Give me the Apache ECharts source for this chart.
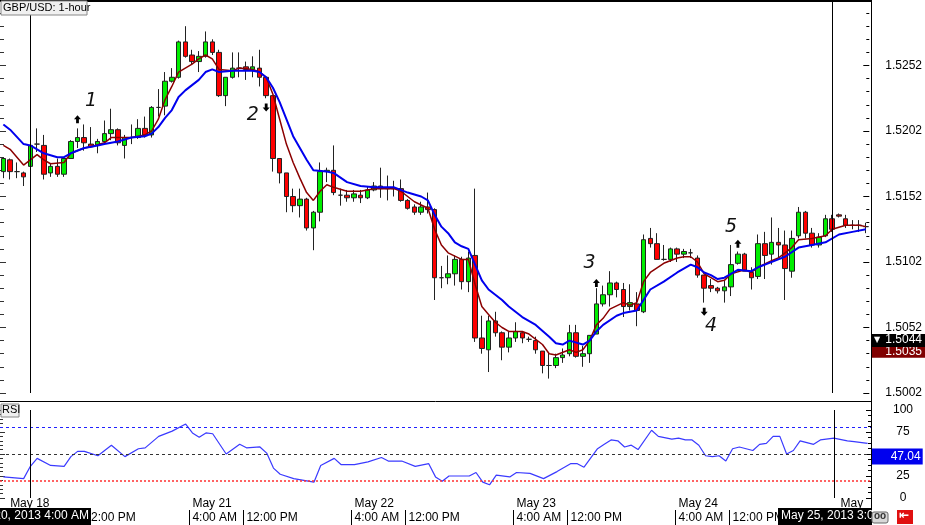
<!DOCTYPE html>
<html>
<head>
<meta charset="utf-8">
<script src="https://cdn.jsdelivr.net/npm/echarts/dist/echarts.min.js"></script>
<style>
  html, body { margin: 0; padding: 0; background: #fff; }
  #chart { width: 925px; height: 525px; }
</style>
</head>
<body>
<div id="chart"></div>
<script>
  // GBP/USD 1-hour candles
  const opens = [1.5171,1.5180,1.5171,1.5170,1.5175,1.5192,1.5191,1.5170,1.5175,1.5169,
    1.5181,1.5194,1.5197,1.5192,1.5191,1.5194,1.5200,1.5203,1.5191,1.5197,
    1.5197,1.5204,1.5199,1.5220,1.5221,1.5240,1.5243,1.5270,1.5260,1.5255,
    1.5259,1.5270,1.5262,1.5229,1.5243,1.5250,1.5251,1.5249,1.5250,1.5243,
    1.5229,1.5181,1.5170,1.5152,1.5145,1.5150,1.5128,1.5140,1.5171,1.5172,
    1.5153,1.5153,1.5151,1.5153,1.5151,1.5157,1.5160,1.5158,1.5158,1.5158,
    1.5149,1.5144,1.5140,1.5144,1.5142,1.5090,1.5090,1.5093,1.5104,1.5087,
    1.5107,1.5044,1.5035,1.5057,1.5048,1.5037,1.5044,1.5048,1.5043,1.5042,
    1.5034,1.5023,1.5023,1.5029,1.5032,1.5048,1.5030,1.5032,1.5047,1.5070,
    1.5077,1.5086,1.5081,1.5068,1.5070,1.5064,1.5120,1.5116,1.5104,1.5104,
    1.5112,1.5108,1.5109,1.5105,1.5092,1.5084,1.5082,1.5080,1.5083,1.5101,
    1.5108,1.5094,1.5091,1.5116,1.5108,1.5117,1.5115,1.5095,1.5122,1.5140,
    1.5124,1.5115,1.5122,1.5135,1.5138,1.5135,1.5130,1.5130,1.5129];
  const closes = [1.5181,1.5171,1.5171,1.5167,1.5191,1.5192,1.5169,1.5175,1.5169,1.5181,
    1.5194,1.5197,1.5193,1.5190,1.5194,1.5200,1.5203,1.5193,1.5197,1.5197,
    1.5204,1.5199,1.5220,1.5220,1.5240,1.5243,1.5270,1.5259,1.5255,1.5259,
    1.5270,1.5262,1.5229,1.5243,1.5250,1.5250,1.5249,1.5251,1.5243,1.5229,
    1.5181,1.5170,1.5152,1.5145,1.5150,1.5128,1.5140,1.5171,1.5172,1.5155,
    1.5153,1.5151,1.5154,1.5151,1.5157,1.5160,1.5158,1.5158,1.5158,1.5149,
    1.5143,1.5140,1.5144,1.5142,1.5090,1.5090,1.5093,1.5104,1.5087,1.5105,
    1.5044,1.5036,1.5057,1.5048,1.5037,1.5044,1.5049,1.5044,1.5043,1.5035,
    1.5023,1.5023,1.5029,1.5031,1.5048,1.5030,1.5032,1.5046,1.5070,1.5077,
    1.5086,1.5081,1.5068,1.5071,1.5065,1.5119,1.5116,1.5104,1.5104,1.5112,
    1.5108,1.5110,1.5109,1.5092,1.5082,1.5082,1.5080,1.5083,1.5100,1.5108,
    1.5095,1.5090,1.5116,1.5107,1.5117,1.5115,1.5097,1.5120,1.5140,1.5124,
    1.5115,1.5121,1.5135,1.5127,1.5137,1.5130,1.5130,1.5130,1.5129];
  const lows = [1.5166,1.5165,1.5166,1.5160,1.5175,1.5186,1.5165,1.5167,1.5167,1.5167,
    1.5181,1.5189,1.5187,1.5189,1.5185,1.5192,1.5195,1.5191,1.5181,1.5192,
    1.5196,1.5197,1.5197,1.5213,1.5214,1.5239,1.5242,1.5258,1.5253,1.5247,
    1.5258,1.5260,1.5228,1.5221,1.5242,1.5243,1.5241,1.5243,1.5236,1.5227,
    1.5171,1.5162,1.5140,1.5140,1.5136,1.5126,1.5111,1.5133,1.5163,1.5153,
    1.5145,1.5148,1.5148,1.5147,1.5150,1.5156,1.5151,1.5149,1.5152,1.5148,
    1.5142,1.5138,1.5138,1.5139,1.5073,1.5082,1.5085,1.5084,1.5081,1.5079,
    1.5041,1.5032,1.5018,1.5045,1.5027,1.5033,1.5041,1.5040,1.5041,1.5032,
    1.5017,1.5013,1.5021,1.5025,1.5030,1.5029,1.5022,1.5025,1.5047,1.5068,
    1.5068,1.5075,1.5060,1.5065,1.5053,1.5063,1.5113,1.5104,1.5103,1.5102,
    1.5102,1.5105,1.5105,1.5090,1.5071,1.5079,1.5078,1.5071,1.5076,1.5100,
    1.5095,1.5081,1.5089,1.5089,1.5100,1.5105,1.5073,1.5090,1.5120,1.5120,
    1.5113,1.5113,1.5121,1.5125,1.5136,1.5128,1.5127,1.5125,1.5124];
  const highs = [1.5181,1.5181,1.5178,1.5171,1.5192,1.5204,1.5199,1.5177,1.5181,1.5182,
    1.5195,1.5204,1.5207,1.5205,1.5196,1.5210,1.5219,1.5204,1.5199,1.5207,
    1.5211,1.5213,1.5221,1.5234,1.5247,1.5250,1.5271,1.5282,1.5264,1.5263,
    1.5278,1.5272,1.5264,1.5243,1.5262,1.5262,1.5255,1.5259,1.5264,1.5244,
    1.5229,1.5181,1.5170,1.5158,1.5158,1.5151,1.5141,1.5178,1.5174,1.5191,
    1.5158,1.5157,1.5157,1.5157,1.5160,1.5163,1.5174,1.5168,1.5164,1.5165,
    1.5150,1.5146,1.5148,1.5155,1.5143,1.5099,1.5107,1.5107,1.5106,1.5110,
    1.5158,1.5061,1.5061,1.5064,1.5049,1.5049,1.5056,1.5049,1.5045,1.5045,
    1.5034,1.5033,1.5032,1.5036,1.5054,1.5054,1.5038,1.5046,1.5082,1.5084,
    1.5095,1.5087,1.5086,1.5085,1.5079,1.5123,1.5128,1.5124,1.5115,1.5113,
    1.5113,1.5112,1.5112,1.5107,1.5092,1.5089,1.5083,1.5088,1.5115,1.5110,
    1.5109,1.5098,1.5123,1.5125,1.5136,1.5128,1.5126,1.5126,1.5144,1.5141,
    1.5128,1.5124,1.5138,1.5138,1.5139,1.5138,1.5134,1.5134,1.5132];

  // moving averages read at [candle index, price]
  const maFast = [[0,1.5191],[1,1.5188],[3,1.5176],[4,1.5180],[5,1.5184],[6,1.5180],[7,1.5177],[9,1.5178],
    [10,1.5185],[12,1.5189],[13,1.5190],[15,1.5193],[16,1.5197],[19,1.5197],[21,1.5199],[22,1.5202],
    [23,1.5211],[24,1.5226],[25,1.5236],[26,1.5247],[28,1.5253],[29,1.5257],[30,1.5260],[31,1.5257],
    [32,1.5249],[34,1.5248],[35,1.5250],[37,1.5249],[38,1.5247],[39,1.5243],[40,1.5230],[41,1.5211],
    [42,1.5192],[43,1.5178],[44,1.5166],[45,1.5155],[46,1.5149],[47,1.5156],[48,1.5161],[49,1.5159],
    [51,1.5156],[53,1.5156],[55,1.5158],[58,1.5158],[59,1.5156],[61,1.5148],[63,1.5143],[64,1.5127],
    [65,1.5115],[66,1.5109],[68,1.5104],[69,1.5104],[70,1.5085],[71,1.5068],[72,1.5062],[73,1.5056],
    [74,1.5052],[75,1.5049],[77,1.5049],[78,1.5047],[80,1.5039],[81,1.5032],[82,1.5031],[84,1.5035],
    [85,1.5033],[86,1.5035],[87,1.5042],[88,1.5054],[89,1.5059],[90,1.5066],[92,1.5071],[93,1.5069],
    [94,1.5071],[95,1.5087],[96,1.5094],[98,1.5101],[100,1.5105],[101,1.5106],[102,1.5106],[103,1.5102],
    [104,1.5093],[105,1.5090],[106,1.5087],[107,1.5088],[108,1.5093],[110,1.5096],[111,1.5094],[112,1.5098],
    [114,1.5103],[115,1.5105],[117,1.5113],[118,1.5119],[120,1.5120],[122,1.5122],[123,1.5127],[125,1.5130],
    [127,1.5130],[128,1.5129]];
  const maSlow = [[0,1.5207],[1,1.5203],[3,1.5192],[4,1.5191],[6,1.5185],[8,1.5182],[9,1.5182],[10,1.5185],
    [12,1.5189],[14,1.5191],[15,1.5192],[17,1.5194],[19,1.5197],[21,1.5198],[22,1.5200],[23,1.5205],
    [24,1.5212],[25,1.5218],[26,1.5228],[27,1.5233],[28,1.5237],[29,1.5241],[30,1.5247],[31,1.5249],
    [32,1.5247],[34,1.5248],[37,1.5248],[38,1.5247],[39,1.5243],[40,1.5235],[41,1.5224],[42,1.5211],
    [43,1.5198],[44,1.5189],[45,1.5180],[46,1.5172],[48,1.5171],[49,1.5170],[51,1.5163],[53,1.5160],
    [55,1.5159],[58,1.5159],[60,1.5155],[62,1.5152],[63,1.5149],[64,1.5138],[65,1.5129],[66,1.5124],
    [67,1.5117],[68,1.5114],[69,1.5112],[70,1.5100],[71,1.5088],[72,1.5081],[74,1.5073],[75,1.5068],
    [77,1.5060],[79,1.5054],[81,1.5045],[82,1.5040],[83,1.5039],[84,1.5042],[86,1.5039],[87,1.5042],
    [88,1.5049],[89,1.5054],[91,1.5061],[92,1.5063],[94,1.5065],[95,1.5073],[96,1.5081],[98,1.5087],
    [100,1.5094],[102,1.5100],[103,1.5098],[104,1.5094],[105,1.5092],[106,1.5089],[107,1.5090],[109,1.5096],
    [111,1.5095],[112,1.5098],[115,1.5104],[116,1.5106],[118,1.5113],[120,1.5115],[122,1.5117],[124,1.5123],
    [126,1.5125],[128,1.5127]];

  // RSI read at [candle index, value]
  const rsiPoints = [[0,24],[3,22],[4,36],[5,45],[7,37],[9,36],[10,47],[11,53],[12,53],[14,48],[16,60],
    [18,47],[20,56],[21,57],[23,70],[25,76],[27,84],[28,74],[29,69],[30,74],[31,73],[33,50],[35,61],
    [36,57],[38,58],[39,51],[40,34],[41,27],[43,22],[46,18],[47,37],[49,45],[50,38],[52,38],[54,41],
    [56,46],[57,42],[59,42],[61,36],[63,39],[64,24],[65,19],[66,25],[69,25],[70,29],[71,18],[72,15],
    [73,26],[75,24],[76,29],[78,28],[80,22],[82,30],[84,39],[85,39],[86,35],[88,56],[89,61],[90,66],
    [91,65],[92,58],[93,60],[94,55],[96,77],[97,70],[99,67],[100,68],[101,66],[102,66],[103,60],[104,48],
    [105,47],[106,48],[107,42],[108,56],[109,58],[111,54],[112,61],[113,62],[114,70],[115,70],[116,50],
    [117,54],[118,65],[119,63],[120,61],[121,66],[123,68],[125,65],[126,64],[128,62]];

  // bottom axis labels (candle index -> text)
  const dayTicks = [1, 28, 52, 76, 100, 124];
  const dayNames = ['May 18', 'May 21', 'May 22', 'May 23', 'May 24', 'May'];
  const timeTicks = [4, 12, 28, 36, 52, 60, 76, 84, 100, 108];
  const timeNames = ['4:00 AM', '12:00 PM', '4:00 AM', '12:00 PM', '4:00 AM', '12:00 PM',
    '4:00 AM', '12:00 PM', '4:00 AM', '12:00 PM'];

  // numbered signals: [index, price, text]
  const signalNums = [[13, 1.5225, '1'], [37, 1.5214, '2'], [87, 1.5101, '3'], [105, 1.5053, '4'], [108, 1.5129, '5']];
  const upArrows = [[11, 1.5211], [88, 1.5086], [109, 1.5116]];
  const downArrows = [[39, 1.5220], [104, 1.5064]];

  const crossIdx = [4, 123];
  const priceTags = [1.5044, 1.5035];
  const rsiTag = 47.04;

  const FONT = 'Liberation Sans, Arial, sans-serif';
  const cats = opens.map((v, i) => i);
  const candles = opens.map((o, i) => [o, closes[i], lows[i], highs[i]]);
  const arrowPath = 'path://M5,0 L10,5 L7,5 L7,10 L3,10 L3,5 L0,5 Z';
  const hidden = 'rgba(0,0,0,0)';

  let chart = echarts.init(document.getElementById('chart'));
  chart.setOption({
    animation: false,
    backgroundColor: '#fff',
    textStyle: {fontFamily: FONT},
    grid: [
      {left: 0, right: 54, top: 0, height: 393},
      {left: 0, right: 54, top: 410, bottom: 27},
      {left: 0, right: 54, top: 510, bottom: 0}
    ],
    xAxis: [
      {type: 'category', gridIndex: 0, data: cats, boundaryGap: true, position: 'bottom',
        axisLine: {show: false}, axisTick: {show: false}, axisLabel: {show: false}},
      {type: 'category', gridIndex: 1, data: cats, boundaryGap: true, position: 'bottom',
        axisLine: {show: false}, axisTick: {show: false},
        axisLabel: {
          interval: (i) => dayTicks.indexOf(i) >= 0,
          formatter: (v, i) => dayNames[dayTicks.indexOf(i)] || '',
          align: 'left', margin: 0, color: '#000', fontSize: 12, fontFamily: FONT
        }},
      {type: 'category', gridIndex: 2, data: cats, boundaryGap: true, position: 'bottom',
        axisLine: {show: false},
        axisTick: {show: true, inside: true, alignWithLabel: false, length: 15,
          interval: (i) => timeTicks.indexOf(i) >= 0, lineStyle: {color: '#000'}},
        axisLabel: {
          inside: true,
          interval: (i) => timeTicks.indexOf(i) >= 0,
          formatter: (v, i) => timeNames[timeTicks.indexOf(i)] || '',
          align: 'left', margin: 1, color: '#000', fontSize: 12, fontFamily: FONT
        }}
    ],
    yAxis: [
      {type: 'value', gridIndex: 0, position: 'right', min: 1.5002, max: 1.5302, interval: 0.005,
        axisLine: {show: false}, splitLine: {show: false},
        axisTick: {show: true, inside: true, length: 6, lineStyle: {color: '#000'}},
        minorTick: {show: true, splitNumber: 5, length: 3, lineStyle: {color: '#000'}},
        axisLabel: {formatter: (v) => v.toFixed(4), showMaxLabel: false, margin: 16,
          color: '#000', fontSize: 12, fontFamily: FONT}},
      {type: 'value', gridIndex: 0, position: 'left', min: 1.5002, max: 1.5302, interval: 0.005,
        axisLine: {show: false}, splitLine: {show: false}, axisLabel: {show: false},
        axisTick: {show: true, inside: true, length: 6, lineStyle: {color: '#333'}},
        minorTick: {show: true, splitNumber: 5, length: 4, lineStyle: {color: '#333'}}},
      {type: 'value', gridIndex: 1, position: 'right', min: 0, max: 100, interval: 25,
        axisLine: {show: false}, splitLine: {show: false},
        axisTick: {show: true, inside: true, length: 5, lineStyle: {color: '#000'}},
        minorTick: {show: true, splitNumber: 4, length: 3, lineStyle: {color: '#000'}},
        axisLabel: {formatter: (v) => (v === 50 ? '' : v), align: 'center', margin: 32,
          color: '#000', fontSize: 12, fontFamily: FONT}},
      {type: 'value', gridIndex: 1, position: 'left', min: 0, max: 100, interval: 25,
        axisLine: {show: false}, splitLine: {show: false}, axisLabel: {show: false},
        axisTick: {show: true, inside: true, length: 5, lineStyle: {color: '#333'}},
        minorTick: {show: true, splitNumber: 5, length: 3, lineStyle: {color: '#333'}}},
      {type: 'value', gridIndex: 2, show: false}
    ],
    series: [
      {
        name: 'GBP/USD',
        type: 'candlestick',
        xAxisIndex: 0, yAxisIndex: 0,
        data: candles,
        barWidth: 5,
        silent: true,
        itemStyle: {
          color: '#00ee00', color0: '#ff0000',
          borderColor: '#222', borderColor0: '#222', borderWidth: 1
        },
        markLine: {
          silent: true, symbol: ['none', 'none'],
          data: crossIdx.map(i => ({xAxis: i, lineStyle: {color: '#000', width: 1, type: 'solid'}, label: {show: false}}))
        },
        markPoint: {
          silent: true,
          data: signalNums.map(s => ({
            coord: [s[0], s[1]], symbol: 'circle', symbolSize: 1, itemStyle: {color: hidden},
            label: {show: true, formatter: s[2], color: '#111', fontSize: 19, fontStyle: 'italic',
              fontFamily: 'DejaVu Sans, sans-serif'}
          })).concat(upArrows.map(a => ({
            coord: a, symbol: arrowPath, symbolSize: [7, 8], itemStyle: {color: '#000'}, label: {show: false}
          }))).concat(downArrows.map(a => ({
            coord: a, symbol: arrowPath, symbolSize: [7, 8], symbolRotate: 180, itemStyle: {color: '#000'}, label: {show: false}
          })))
        }
      },
      {
        name: 'fast MA', type: 'line', xAxisIndex: 0, yAxisIndex: 0,
        data: maFast, symbol: 'none', silent: true,
        lineStyle: {color: '#8b0000', width: 1.5}
      },
      {
        name: 'slow MA', type: 'line', xAxisIndex: 0, yAxisIndex: 0,
        data: maSlow, symbol: 'none', silent: true,
        lineStyle: {color: '#0000ee', width: 2}
      },
      {
        name: 'RSI', type: 'line', xAxisIndex: 1, yAxisIndex: 2,
        data: rsiPoints, symbol: 'none', silent: true,
        lineStyle: {color: '#3a3aff', width: 1.2},
        markLine: {
          silent: true, symbol: ['none', 'none'],
          data: [
            {yAxis: 80, lineStyle: {color: '#2020ff', type: [3, 3], width: 1}, label: {show: false}},
            {yAxis: 50, lineStyle: {color: '#333', type: [3, 3], width: 1}, label: {show: false}},
            {yAxis: 20, lineStyle: {color: '#ff3030', type: [2, 2], width: 1.5}, label: {show: false}},
            {xAxis: crossIdx[0], lineStyle: {color: '#000', width: 1, type: 'solid'}, label: {show: false}},
            {xAxis: crossIdx[1], lineStyle: {color: '#000', width: 1, type: 'solid'}, label: {show: false}},
            {yAxis: rsiTag, lineStyle: {color: hidden},
              label: {show: true, position: 'end', distance: 0, formatter: '     ' + rsiTag.toFixed(2),
                backgroundColor: '#0000ee', color: '#fff', fontSize: 12, padding: [2, 2, 2, 3], fontFamily: FONT}}
          ]
        }
      }
    ],
    graphic: [
      {type: 'line', shape: {x1: 0, y1: 1, x2: 871, y2: 1}, style: {stroke: '#000', lineWidth: 2}, z: 100},
      {type: 'line', shape: {x1: 0, y1: 401.5, x2: 871, y2: 401.5}, style: {stroke: '#000', lineWidth: 1}, z: 100},
      {type: 'line', shape: {x1: 871.5, y1: 0, x2: 871.5, y2: 510}, style: {stroke: '#000', lineWidth: 1}, z: 100},
      // title tag
      {type: 'rect', shape: {x: 1, y: 1, width: 86, height: 14}, style: {fill: '#f0f0f0', stroke: '#888', lineWidth: 1}, z: 101},
      {type: 'text', x: 3, y: 2, style: {text: 'GBP/USD: 1-hour', fill: '#000', font: '11px ' + FONT}, z: 102},
      // RSI tag
      {type: 'rect', shape: {x: 1, y: 404, width: 18, height: 13}, style: {fill: '#f0f0f0', stroke: '#888', lineWidth: 1}, z: 101},
      {type: 'text', x: 2, y: 404, style: {text: 'RSI', fill: '#000', font: '11px ' + FONT}, z: 102},
      // crosshair time tags
      {type: 'rect', shape: {x: 0, y: 508, width: 91, height: 17}, style: {fill: '#000'}, z: 101},
      {type: 'text', x: 89, y: 510, style: {text: 'May 20, 2013 4:00 AM', fill: '#fff', font: '12px ' + FONT, align: 'right'}, z: 102},
      {type: 'rect', shape: {x: 778, y: 508, width: 93, height: 17}, style: {fill: '#000'}, z: 101},
      {type: 'text', x: 781, y: 510, style: {text: 'May 25, 2013 3:00 AM', fill: '#fff', font: '12px ' + FONT}, z: 102},
      // corner icons
      {type: 'rect', shape: {x: 872, y: 512, width: 16, height: 11, r: 2}, style: {fill: '#d8d8d8', stroke: '#666'}, z: 103},
      {type: 'text', x: 874, y: 511, style: {text: 'oo', fill: '#333', font: 'bold 10px ' + FONT}, z: 104},
      {type: 'rect', shape: {x: 897, y: 510, width: 16, height: 14}, style: {fill: '#e01010'}, z: 103},
      {type: 'text', x: 899, y: 510, style: {text: '⇤', fill: '#fff', font: 'bold 12px DejaVu Sans'}, z: 104}
    ]
  });

  // price tags on the right axis, placed through the price scale
  let tagY0 = chart.convertToPixel({yAxisIndex: 0}, priceTags[0]);
  let tagY1 = chart.convertToPixel({yAxisIndex: 0}, priceTags[1]);
  chart.setOption({
    graphic: [
      {id: 'tag1bg', type: 'rect', shape: {x: 872, y: tagY1 - 3, width: 53, height: 11}, style: {fill: '#800000'}, z: 110},
      {id: 'tag1tx', type: 'text', x: 922, y: tagY1 - 4, style: {text: priceTags[1].toFixed(4), fill: '#fff', font: '12px ' + FONT, align: 'right'}, z: 111},
      {id: 'tag0bg', type: 'rect', shape: {x: 872, y: tagY0 - 4, width: 53, height: 13}, style: {fill: '#000'}, z: 112},
      {id: 'tag0ar', type: 'text', x: 874, y: tagY0 - 2, style: {text: '▼', fill: '#fff', font: '8px DejaVu Sans'}, z: 113},
      {id: 'tag0tx', type: 'text', x: 922, y: tagY0 - 4, style: {text: priceTags[0].toFixed(4), fill: '#fff', font: '12px ' + FONT, align: 'right'}, z: 113}
    ]
  });
</script>
</body>
</html>
